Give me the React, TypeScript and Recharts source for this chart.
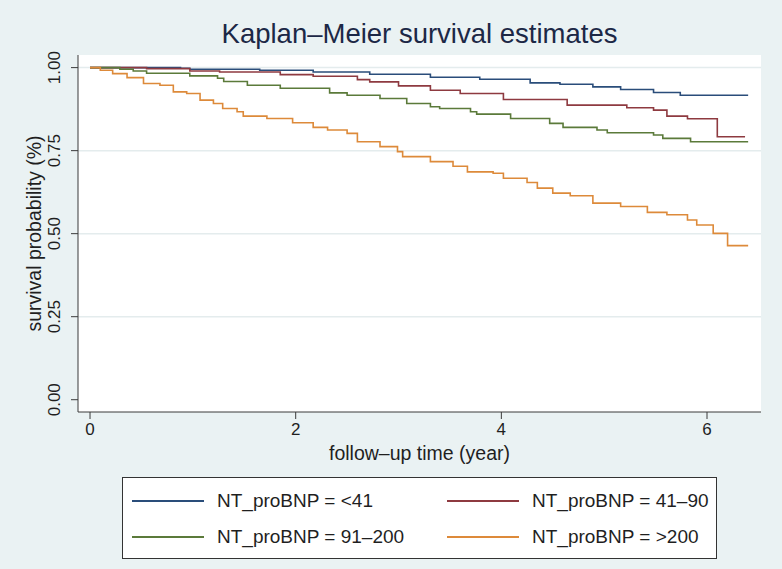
import { LineChart, Line, XAxis, YAxis, CartesianGrid, ReferenceLine, Legend } from "recharts"

// Kaplan–Meier estimates by NT_proBNP group
const xTicks = [0, 2, 4, 6]
const yTicks = [0, 0.25, 0.5, 0.75, 1]
const gridLevels = [0.25, 0.5, 0.75, 1]

const groupNames = [
  "NT_proBNP = <41",
  "NT_proBNP = 41–90",
  "NT_proBNP = 91–200",
  "NT_proBNP = >200",
]
const groupColors = ["#2a4d7a", "#8e3a40", "#5b7a3a", "#dd8a3a"]

const lt41Time = [0, 0.88, 0.97, 1.65, 2.17, 2.72, 3.31, 3.79, 4.28, 4.57, 4.89, 5.16, 5.48, 5.74, 6.4]
const lt41Surv = [1, 0.998, 0.995, 0.992, 0.987, 0.98, 0.971, 0.965, 0.954, 0.95, 0.942, 0.934, 0.925, 0.917, 0.917]

const g41to90Time = [0, 0.55, 0.97, 1.26, 1.85, 2.17, 2.6, 2.72, 3.0, 3.31, 3.6, 4.02, 4.64, 5.22, 5.48, 5.61, 5.81, 6.1, 6.37]
const g41to90Surv = [1, 0.997, 0.99, 0.987, 0.979, 0.974, 0.964, 0.957, 0.945, 0.932, 0.922, 0.904, 0.887, 0.879, 0.872, 0.854, 0.846, 0.792, 0.792]

const g91to200Time = [0, 0.29, 0.42, 0.55, 0.97, 1.24, 1.3, 1.53, 1.85, 2.33, 2.5, 2.82, 3.08, 3.31, 3.4, 3.7, 3.76, 4.09, 4.47, 4.6, 4.93, 5.03, 5.48, 5.57, 5.84, 6.4]
const g91to200Surv = [1, 0.995, 0.99, 0.983, 0.975, 0.968, 0.958, 0.947, 0.938, 0.924, 0.917, 0.907, 0.892, 0.882, 0.877, 0.867, 0.86, 0.847, 0.832, 0.82, 0.812, 0.804, 0.797, 0.787, 0.777, 0.777]

const gt200Time = [0, 0.1, 0.22, 0.36, 0.52, 0.68, 0.81, 0.94, 1.07, 1.2, 1.29, 1.43, 1.49, 1.72, 1.97, 2.17, 2.31, 2.5, 2.6, 2.82, 2.99, 3.04, 3.31, 3.53, 3.67, 3.92, 4.02, 4.25, 4.35, 4.5, 4.67, 4.89, 5.16, 5.42, 5.61, 5.81, 5.9, 6.06, 6.2, 6.4]
const gt200Surv = [1, 0.992, 0.982, 0.97, 0.952, 0.947, 0.927, 0.922, 0.902, 0.892, 0.877, 0.867, 0.854, 0.847, 0.834, 0.82, 0.812, 0.802, 0.777, 0.762, 0.747, 0.732, 0.717, 0.703, 0.686, 0.682, 0.667, 0.654, 0.637, 0.622, 0.614, 0.592, 0.582, 0.564, 0.557, 0.541, 0.526, 0.501, 0.464, 0.464]

const toRows = (times: number[], surv: number[]) => times.map((t, i) => ({ t, s: surv[i] }))

const series = [
  { name: groupNames[0], color: groupColors[0], data: toRows(lt41Time, lt41Surv) },
  { name: groupNames[1], color: groupColors[1], data: toRows(g41to90Time, g41to90Surv) },
  { name: groupNames[2], color: groupColors[2], data: toRows(g91to200Time, g91to200Surv) },
  { name: groupNames[3], color: groupColors[3], data: toRows(gt200Time, gt200Surv) },
]

const textColor = "#1f1f1f"
const axisColor = "#3a3a3a"

function YTick({ x, y, payload }: any) {
  const cx = x - 15
  return (
    <text
      x={cx}
      y={y}
      dy="0.35em"
      textAnchor="middle"
      transform={`rotate(-90 ${cx} ${y})`}
      fontSize={17}
      fill={textColor}
    >
      {Number(payload.value).toFixed(2)}
    </text>
  )
}

// legend keeps the Stata order: row-major, two columns
function KmLegend() {
  return (
    <div
      style={{
        width: "100%",
        height: "100%",
        boxSizing: "border-box",
        border: "1px solid #333",
        background: "#fff",
        display: "grid",
        gridTemplateColumns: "315px 1fr",
        gridAutoRows: "36px",
        paddingTop: 5,
      }}
    >
      {groupNames.map((name, i) => (
        <div key={name} style={{ display: "flex", alignItems: "center" }}>
          <div style={{ width: 72, borderTop: `2px solid ${groupColors[i]}`, marginLeft: 9, marginRight: 13 }} />
          <span style={{ fontSize: 19, color: textColor, whiteSpace: "nowrap" }}>{name}</span>
        </div>
      ))}
    </div>
  )
}

export default function App() {
  return (
    <div
      style={{
        position: "absolute",
        left: 0,
        top: 0,
        width: 782,
        height: 569,
        background: "#eaf2f3",
        fontFamily: "'Liberation Sans', Arial, sans-serif",
      }}
    >
      <div
        style={{
          position: "absolute",
          left: 78,
          width: 683,
          top: 19,
          textAlign: "center",
          fontSize: 27.5,
          lineHeight: "30px",
          color: "#1c2846",
        }}
      >
        Kaplan–Meier survival estimates
      </div>
      <LineChart width={782} height={569} margin={{ top: 55, right: 21, left: 0, bottom: 0 }}>
        <CartesianGrid horizontal={false} vertical={false} fill="#ffffff" fillOpacity={1} stroke="none" />
        {gridLevels.map((v) => (
          <ReferenceLine key={v} y={v} stroke="#e4eced" strokeWidth={1.5} />
        ))}
        <XAxis
          dataKey="t"
          type="number"
          domain={[-0.117, 6.525]}
          ticks={xTicks}
          allowDataOverflow
          height={157}
          stroke={axisColor}
          tickSize={7}
          tickMargin={4}
          tick={{ fontSize: 17, fill: textColor }}
          label={({ viewBox }: any) => (
            <text
              x={viewBox.x + viewBox.width / 2}
              y={viewBox.y + 41}
              dy="0.35em"
              textAnchor="middle"
              fontSize={19.5}
              fill={textColor}
            >
              follow–up time (year)
            </text>
          )}
        />
        <YAxis
          type="number"
          domain={[-0.037, 1.038]}
          ticks={yTicks}
          allowDataOverflow
          width={78}
          stroke={axisColor}
          tickSize={7}
          tickMargin={2}
          tick={<YTick />}
          label={({ viewBox }: any) => {
            const cx = viewBox.x + 34
            const cy = viewBox.y + viewBox.height / 2
            return (
              <text
                x={cx}
                y={cy}
                dy="0.35em"
                textAnchor="middle"
                transform={`rotate(-90 ${cx} ${cy})`}
                fontSize={19.5}
                fill={textColor}
              >
                survival probability (%)
              </text>
            )
          }}
        />
        {series.map((s) => (
          <Line
            key={s.name}
            data={s.data}
            dataKey="s"
            name={s.name}
            type="stepAfter"
            stroke={s.color}
            strokeWidth={1.6}
            dot={false}
            activeDot={false}
            isAnimationActive={false}
          />
        ))}
        <Legend
          layout="vertical"
          align="center"
          verticalAlign="middle"
          content={<KmLegend />}
          wrapperStyle={{ position: "absolute", left: 122, top: 477, width: 595, height: 82 }}
        />
      </LineChart>
    </div>
  )
}
